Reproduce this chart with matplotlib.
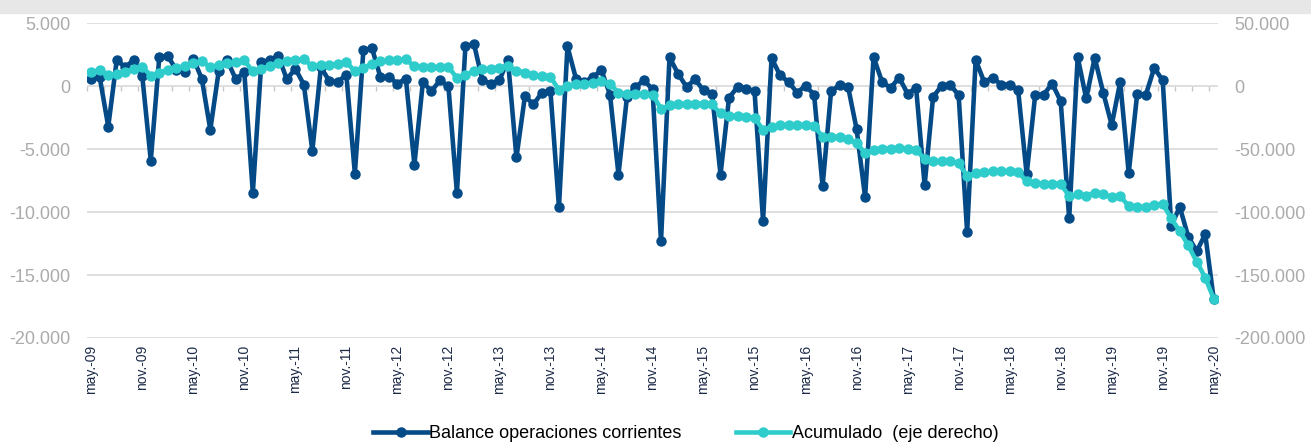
import numpy as np
import matplotlib
matplotlib.use("Agg")
from matplotlib import pyplot as plt
from matplotlib.patches import Rectangle
from matplotlib.ticker import FuncFormatter

plt.rcParams['font.family'] = ['Liberation Sans', 'DejaVu Sans']

# monthly values, may-09 .. may-20
balance = [
    600, 700, -3200, 2100, 1500, 2100, 800, -5900, 2300, 2400, 1300, 1150,
    2200, 600, -3450, 1250, 2050, 550, 1100, -8450, 1900, 2100, 2400, 550,
    1400, 130, -5130, 1500, 420, 340, 920, -6940, 2840, 3050, 740, 740,
    210, 600, -6230, 340, -400, 470, 0, -8470, 3180, 3370, 470, 210,
    470, 2100, -5650, -790, -1450, -500, -400, -9600, 3160, 600, 340, 740,
    1260, -660, -7020, -840, -50, 470, -240, -12300, 2300, 1000, -50, 550,
    -320, -580, -7020, -920, -50, -180, -400, -10700, 2240, 870, 340, -500,
    30, -660, -7940, -400, 80, -50, -3400, -8810, 2310, 340, -130, 680,
    -580, -130, -7860, -840, 30, 130, -710, -11600, 2100, 340, 680, 130,
    130, -320, -7000, -710, -660, 210, -1180, -10500, 2310, -970, 2260, -500,
    -3080, 340, -6890, -580, -710, 1450, 470, -11100, -9580, -11950, -13100, -11760,
    -16940,
]

acumulado = [
    11200, 12700, 8600, 9900, 11700, 13700, 15400, 8500, 10800, 13100, 14400, 16100,
    18300, 20000, 15300, 16600, 18400, 19200, 20500, 11800, 13900, 16000, 18100, 20000,
    21000, 21300, 16000, 16600, 17100, 17600, 19200, 11800, 14500, 17900, 19700, 20500,
    20800, 21300, 15800, 15500, 15000, 15300, 15300, 6600, 9200, 11800, 13400, 13900,
    14500, 16000, 12500, 10800, 9200, 8200, 7400, -3000, 500, 1600, 2100, 2900,
    3900, 2100, -5300, -6000, -6000, -5800, -6600, -17800, -15300, -14500, -14500, -14200,
    -13900, -14500, -21600, -23400, -23900, -24200, -25000, -34700, -32100, -31000, -30800, -30800,
    -30800, -31600, -40000, -40500, -40500, -42000, -45200, -53100, -50500, -49700, -49700, -49200,
    -49700, -50500, -57600, -59700, -59700, -59700, -61000, -71500, -68900, -68100, -67600, -67600,
    -67600, -68100, -75500, -76800, -77300, -77300, -77600, -87300, -86000, -86800, -84700, -85500,
    -88100, -87300, -95200, -96000, -96000, -94400, -93500, -105000, -115000, -126500, -139500, -152000,
    -169000,
]

tick_labels = ['may.-09', 'nov.-09', 'may.-10', 'nov.-10', 'may.-11', 'nov.-11',
               'may.-12', 'nov.-12', 'may.-13', 'nov.-13', 'may.-14', 'nov.-14',
               'may.-15', 'nov.-15', 'may.-16', 'nov.-16', 'may.-17', 'nov.-17',
               'may.-18', 'nov.-18', 'may.-19', 'nov.-19', 'may.-20']

BLUE = '#034a87'
TURQ = '#2fcccc'
GRID = '#d9d9d9'
GRAY_TXT = '#ababab'
LABEL_TXT = '#1c2a48'


def thousands(v, pos=None):
    return f"{v:,.0f}".replace(',', '.')


months = np.arange(len(balance))

fig = plt.figure(figsize=(13.11, 4.43), dpi=100)
fig.patches.append(Rectangle((0, 1 - 13 / 443), 1, 13 / 443, transform=fig.transFigure,
                             color='#e7e7e7', zorder=0))

ax = fig.add_axes([87 / 1311, 1 - 338 / 443, (1218 - 87) / 1311, (338 - 23.3) / 443])
ax2 = ax.twinx()

l1, = ax.plot(months, balance, '-o', color=BLUE, lw=3.3, ms=6.5, label='Balance operaciones corrientes')
l2, = ax2.plot(months, acumulado, '-o', color=TURQ, lw=3.3, ms=6.5, label='Acumulado  (eje derecho)')

ax.set_xlim(-0.5, len(balance) - 0.5)
ax.set_ylim(-20000, 5000)
ax2.set_ylim(-200000, 50000)
ax.set_yticks(np.arange(-20000, 5001, 5000))
ax2.set_yticks(np.arange(-200000, 50001, 50000))
ax.yaxis.set_major_formatter(FuncFormatter(thousands))
ax2.yaxis.set_major_formatter(FuncFormatter(thousands))

ax.grid(axis='y', color=GRID, lw=1.2)
ax.set_axisbelow(True)
for a in (ax, ax2):
    for sp in a.spines.values():
        sp.set_visible(False)

ax.tick_params(axis='y', length=0, pad=12, labelsize=13, labelcolor=GRAY_TXT)
ax2.tick_params(axis='y', length=0, pad=12, labelsize=13, labelcolor=GRAY_TXT)

ax.set_xticks(months[::6])
ax.set_xticklabels(tick_labels, rotation=90)
ax.tick_params(axis='x', length=0, pad=5, labelsize=10, labelcolor=LABEL_TXT)

# small tick marks on the zero line, every two months
sec = ax.secondary_xaxis(0.8)
sec.set_alignment('bottom')
sec.set_xticks(np.arange(-0.5, len(balance), 2))
sec.set_xticklabels([])
sec.tick_params(axis='x', direction='out', length=3.5, width=1, color='#c8c8c8',
                labelbottom=False, labeltop=False)
for sp in sec.spines.values():
    sp.set_visible(False)

fig.legend(handles=[l1, l2], loc='center', bbox_to_anchor=(686 / 1311, 1 - 434 / 443),
           ncol=2, frameon=False, fontsize=13, handlelength=3.0, handletextpad=0.1,
           columnspacing=3.0, borderaxespad=0)

fig.savefig('out.png', dpi=100)
